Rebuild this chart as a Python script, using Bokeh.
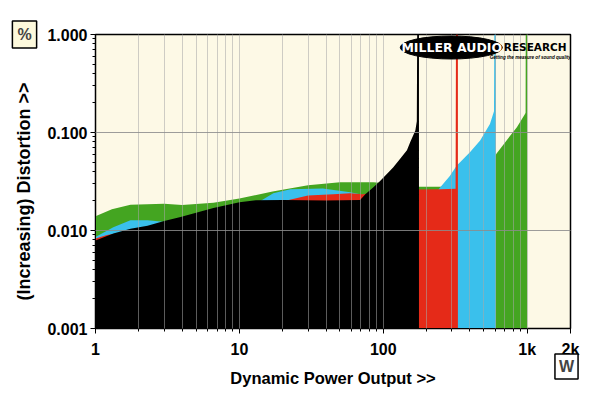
import math
from bokeh.plotting import figure
from bokeh.models import FixedTicker, Label
from bokeh.embed import file_html
from bokeh.resources import INLINE

# ---------------- data ----------------
FLOOR = 0.001

green_x = [1, 1.3, 1.75, 3, 4, 6.6, 10, 17, 30, 50, 85, 100, 175, 250, 330, 600, 611, 719, 848, 968, 975, 977, 1000]
green_y = [0.0140, 0.0165, 0.0183, 0.0188, 0.0182, 0.0192, 0.0212, 0.0250, 0.0290, 0.0310, 0.0310, 0.0305,
           0.0280, 0.0280, 0.0300, 0.0580, 0.0606, 0.0830, 0.1130, 0.1550, 0.1600, 1.0, 1.0]

blue_x = [1, 1.33, 1.75, 2.3, 2.96, 4, 10, 14, 17.2, 22.6, 38, 59, 72, 100, 176, 240, 249, 290, 324, 343,
          400, 471, 551, 588, 591, 606]
blue_y = [0.0086, 0.0108, 0.0127, 0.0127, 0.0123, 0.0130, 0.0180, 0.0200, 0.0240, 0.0263, 0.0268, 0.0245,
          0.0232, 0.0250, 0.0250, 0.0258, 0.0277, 0.0360, 0.0460, 0.0500, 0.0630, 0.0830, 0.1220, 0.1650,
          1.0, 1.0]

red_x = [1, 1.2, 1.5, 10, 22, 30, 45, 59, 72, 100, 176, 250, 318, 320, 330]
red_y = [0.0083, 0.0090, 0.0095, 0.0180, 0.0205, 0.0228, 0.0235, 0.0240, 0.0235, 0.0250, 0.0262, 0.0264,
         0.0266, 1.0, 1.0]

black_x = [1, 1.33, 1.75, 2.3, 3, 3.9, 6.6, 10, 13, 20, 40, 69, 75, 85, 95, 117, 131, 146, 154, 167, 171,
           172, 177]
black_y = [0.0079, 0.0093, 0.0104, 0.0112, 0.0125, 0.0137, 0.0170, 0.0194, 0.0203, 0.0205, 0.0202, 0.0205,
           0.0235, 0.0275, 0.0320, 0.0440, 0.0540, 0.0660, 0.0800, 0.1050, 0.1300, 1.0, 1.0]

x_ticks = [1, 10, 100, 1000, 2000]
x_tick_labels = ["1", "10", "100", "1k", "2k"]
x_minor = [m * d for d in (1, 10, 100) for m in range(2, 10)]
y_ticks = [0.001, 0.01, 0.1, 1.0]
y_tick_labels = ["0.001", "0.010", "0.100", "1.000"]
y_minor = [m * d for d in (0.001, 0.01, 0.1) for m in range(2, 10)]

x_title = "Dynamic Power Output >>"
y_title = "(Increasing) Distortion >>"

# ---------------- style ----------------
GREEN = "#44a521"
BLUE = "#3ac0ec"
RED = "#e52a18"
BLACK = "#000000"
CREAM = "#fdf9e6"
FONT = "Liberation Sans"

p = figure(width=600, height=393, x_axis_type="log", y_axis_type="log",
           x_range=(1, 2000), y_range=(0.001, 1.0),
           output_backend="svg", toolbar_location=None,
           min_border_left=95, min_border_right=30, min_border_top=34, min_border_bottom=65)
p.background_fill_color = CREAM
p.border_fill_color = "white"
p.outline_line_color = "black"
p.outline_line_width = 1.5

for xs, ys, c in ((green_x, green_y, GREEN), (blue_x, blue_y, BLUE),
                  (red_x, red_y, RED), (black_x, black_y, BLACK)):
    p.varea(x=xs, y1=[FLOOR] * len(xs), y2=ys, fill_color=c, fill_alpha=1.0)

# axes
p.xaxis.ticker = FixedTicker(ticks=x_ticks, minor_ticks=x_minor)
p.xaxis.major_label_overrides = {t: l for t, l in zip(x_ticks, x_tick_labels)}
p.yaxis.ticker = FixedTicker(ticks=y_ticks, minor_ticks=y_minor)
p.yaxis.major_label_overrides = {t: l for t, l in zip(y_ticks, y_tick_labels)}

for ax in (p.xaxis, p.yaxis):
    ax.major_label_text_font = FONT
    ax.major_label_text_font_style = "bold"
    ax.major_label_text_font_size = "16px"
    ax.major_label_text_color = "black"
    ax.axis_label_text_font = FONT
    ax.axis_label_text_font_style = "bold"
    ax.axis_label_text_font_size = "16.5px"
    ax.axis_label_text_color = "black"
    ax.axis_line_color = "black"
    ax.major_tick_line_color = "black"
    ax.minor_tick_line_color = "black"
    ax.major_tick_in = 0
    ax.major_tick_out = 5
    ax.minor_tick_in = 0
    ax.minor_tick_out = 3

p.xaxis.axis_label = x_title
p.xaxis.major_label_standoff = 7
p.xaxis.axis_label_standoff = 8
p.yaxis.major_label_standoff = 3

# y title as a rotated label in the left panel (positioned to match the original)
p.add_layout(Label(x=-1, y=137, x_units="screen", y_units="screen", text=y_title,
                   angle=math.pi / 2, text_align="center", text_baseline="middle",
                   text_font=FONT, text_font_style="bold", text_font_size="18px",
                   text_color="black"), "left")

# grid above the fills
p.xgrid.ticker = FixedTicker(ticks=x_ticks, minor_ticks=x_minor)
p.xgrid.grid_line_color = "#a8a8a8"
p.xgrid.grid_line_alpha = 0.55
p.xgrid.minor_grid_line_color = "#a8a8a8"
p.xgrid.minor_grid_line_alpha = 0.55
p.xgrid.level = "guide"
p.ygrid.ticker = FixedTicker(ticks=y_ticks)
p.ygrid.grid_line_color = "#8c8c8c"
p.ygrid.grid_line_alpha = 0.85
p.ygrid.level = "guide"

# unit boxes (side panels are not clipped to the frame)
p.add_layout(Label(x=-71, y=0, x_units="screen", y_units="screen", text="%",
                   text_align="center", text_baseline="middle",
                   text_font=FONT, text_font_style="bold", text_font_size="16px",
                   background_fill_color="#fdf9dc", border_line_color="black", border_line_width=1.5,
                   padding=5), "above")
p.add_layout(Label(x=-4, y=-38, x_units="screen", y_units="screen", text="W",
                   text_align="center", text_baseline="middle",
                   text_font=FONT, text_font_style="bold", text_font_size="16px",
                   background_fill_color="white", border_line_color="black", border_line_width=1.5,
                   padding=4), "right")

# logo
logo = p.ellipse(x=[297], y=[0.737], width=102, height=23, width_units="screen", height_units="screen",
                 fill_color="black", line_color="black")
logo.level = "annotation"
p.add_layout(Label(x=299, y=0.737, text="MILLER AUDIO", text_align="center", text_baseline="middle",
                   text_font="DejaVu Sans", text_font_style="bold", text_font_size="12.5px",
                   text_color="white", level="overlay"))
p.add_layout(Label(x=1137, y=0.737, text="RESEARCH", text_align="center", text_baseline="middle",
                   text_font="DejaVu Sans", text_font_style="bold", text_font_size="10.5px",
                   text_color="black", level="overlay"))
p.add_layout(Label(x=1050, y=0.582, text="Getting the measure of sound quality", text_align="center",
                   text_baseline="middle", text_font=FONT, text_font_style="bold italic",
                   text_font_size="4.6px", text_color="black", level="overlay"))

open("out.html", "w").write(file_html(p, INLINE))
